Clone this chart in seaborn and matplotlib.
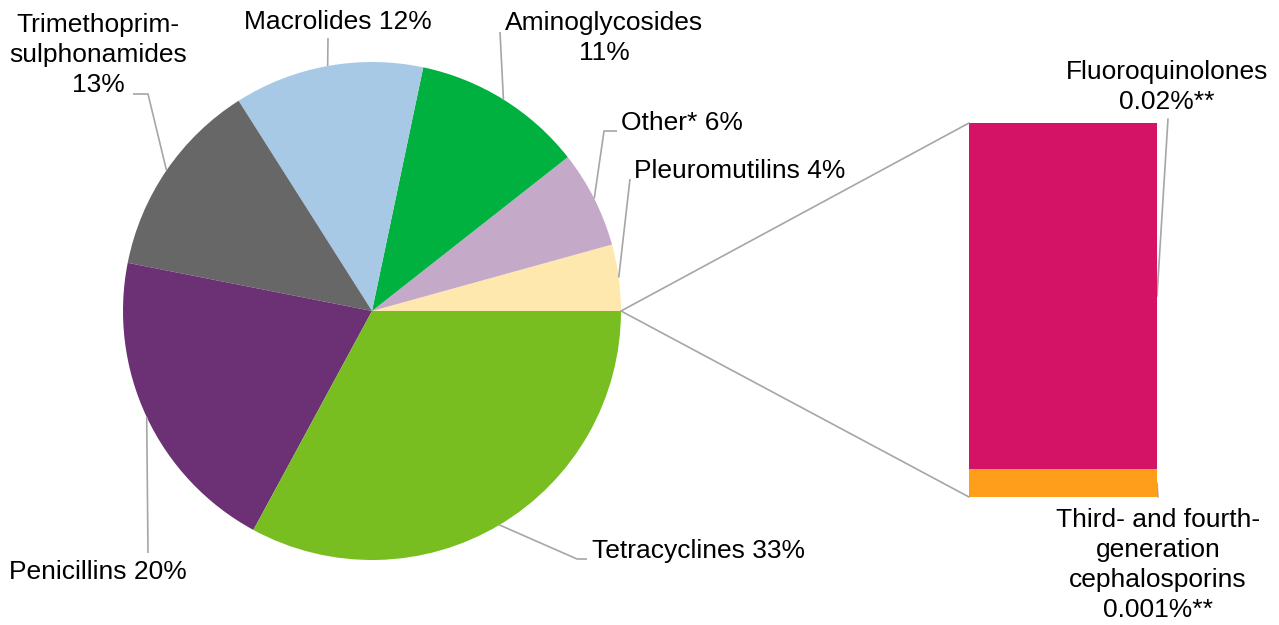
import numpy as np
import matplotlib
matplotlib.use("Agg")
import matplotlib.pyplot as plt
import seaborn as sns
from matplotlib.patches import ConnectionPatch

# ---- data ----
pie_labels = ["Pleuromutilins 4%", "Other* 6%", "Aminoglycosides\n11%", "Macrolides 12%",
              "Trimethoprim-\nsulphonamides\n13%", "Penicillins 20%", "Tetracyclines 33%"]
pie_values = [4.3, 6.3, 11.1, 12.3, 12.9, 20.2, 32.9]
pie_colors = ["#FFE8AD", "#C4A9C9", "#00B140", "#A8C9E5", "#676767", "#6C3174", "#78BE21"]

bar_labels = ["Fluoroquinolones\n0.02%**",
              "Third- and fourth-\ngeneration\ncephalosporins\n0.001%**"]
bar_values = [0.0198, 0.0016]
bar_colors = ["#D41367", "#FF9E1B"]

sns.set_theme(style="white")
plt.rcParams["font.family"] = ["Liberation Sans", "DejaVu Sans"]

W, H = 1279, 625
fig = plt.figure(figsize=(W / 100, H / 100), dpi=100)
ax = fig.add_axes([0, 0, 1, 1])

def py(y):
    return H - y

cx, cy, R = 372, py(311), 249
wedges, _ = ax.pie(pie_values, colors=pie_colors, startangle=0, counterclock=True,
                   center=(cx, cy), radius=R, wedgeprops=dict(linewidth=0))
ax.set_xlim(0, W)
ax.set_ylim(0, H)
ax.set_aspect("equal")
ax.axis("off")

GRAY = "#A6A6A6"
FS = 19
LW = 1.2
LS = 1.31

# leader lines (elbow/end points in pixel layout)
leaders = [
    [(630, 179)],
    [(604, 131), (617, 131)],
    [(500, 32)],
    [(328, 38)],
    [(148, 94), (133, 94)],
    [(148, 553)],
    [(577, 559), (587, 559)],
]
text_pos = [
    (634, 171, "left"),
    (621, 123, "left"),
    (604, 38, "center"),
    (338, 22, "center"),
    (98, 55, "center"),
    (9, 572, "left"),
    (592, 551, "left"),
]
for w, pts, (tx, ty, ha), lab in zip(wedges, leaders, text_pos, pie_labels):
    mid = np.deg2rad((w.theta1 + w.theta2) / 2)
    sx, sy = cx + R * np.cos(mid), cy + R * np.sin(mid)
    xs = [sx] + [p[0] for p in pts]
    ys = [sy] + [py(p[1]) for p in pts]
    ax.plot(xs, ys, color=GRAY, lw=LW, solid_capstyle="butt")
    ax.text(tx, py(ty), lab, ha=ha, va="center", fontsize=FS, color="black",
            multialignment="center", linespacing=LS)

# ---- bar of pie ----
bx0, bx1, by0, by1 = 969, 1157, 123, 497
bax = fig.add_axes([bx0 / W, (H - by1) / H, (bx1 - bx0) / W, (by1 - by0) / H])
total = sum(bar_values)
sns.barplot(x=["a"], y=[total], color=bar_colors[0], width=1, saturation=1,
            linewidth=0, ax=bax)
sns.barplot(x=["a"], y=[bar_values[1]], color=bar_colors[1], width=1, saturation=1,
            linewidth=0, ax=bax)
bax.set_xlim(-0.5, 0.5)
bax.set_ylim(0, total)
bax.axis("off")

for yb in (total, 0):
    con = ConnectionPatch(xyA=(cx + R, cy), coordsA=ax.transData,
                          xyB=(-0.5, yb), coordsB=bax.transData,
                          color=GRAY, lw=LW)
    fig.add_artist(con)

def bar_to_ax(x, y):
    return ax.transData.inverted().transform(bax.transData.transform((x, y)))

# bar leaders
fq_start = bar_to_ax(0.5, bar_values[1] + bar_values[0] / 2)
ce_start = bar_to_ax(0.5, bar_values[1] / 2)
ax.plot([fq_start[0], 1168], [fq_start[1], py(119)], color=GRAY, lw=LW)
ax.plot([ce_start[0], 1158], [ce_start[1], py(497)], color=GRAY, lw=LW)
ax.text(1167, py(87), bar_labels[0], ha="center", va="center", fontsize=FS,
        color="black", multialignment="center", linespacing=LS)
ax.text(1158, py(565), bar_labels[1], ha="center", va="center", fontsize=FS,
        color="black", multialignment="center", linespacing=LS)

fig.savefig("out.png", dpi=100)
